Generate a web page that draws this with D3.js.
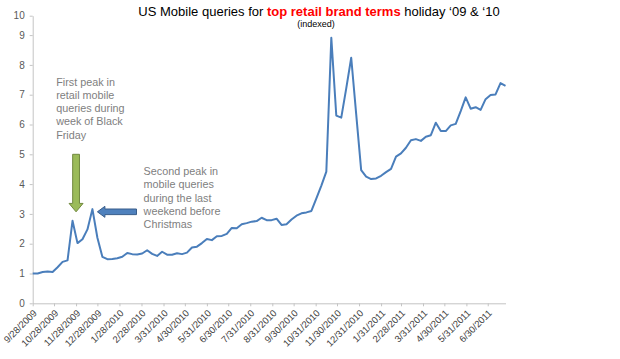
<!DOCTYPE html>
<html>
<head>
<meta charset="utf-8">
<script src="https://cdn.jsdelivr.net/npm/d3@7"></script>
<style>
  body { margin: 0; background: #fff; }
  svg { display: block; font-family: Arial, "Liberation Sans", sans-serif; }
</style>
</head>
<body>
<div id="chart"></div>
<script>
// Weekly index of mobile queries (week starting dates)
const weeks = [
  "2009-09-28","2009-10-05","2009-10-12","2009-10-19","2009-10-26","2009-11-02","2009-11-09",
  "2009-11-16","2009-11-23","2009-11-30","2009-12-07","2009-12-14","2009-12-21","2009-12-28",
  "2010-01-04","2010-01-11","2010-01-18","2010-01-25","2010-02-01","2010-02-08","2010-02-15",
  "2010-02-22","2010-03-01","2010-03-08","2010-03-15","2010-03-22","2010-03-29","2010-04-05",
  "2010-04-12","2010-04-19","2010-04-26","2010-05-03","2010-05-10","2010-05-17","2010-05-24",
  "2010-05-31","2010-06-07","2010-06-14","2010-06-21","2010-06-28","2010-07-05","2010-07-12",
  "2010-07-19","2010-07-26","2010-08-02","2010-08-09","2010-08-16","2010-08-23","2010-08-30",
  "2010-09-06","2010-09-13","2010-09-20","2010-09-27","2010-10-04","2010-10-11","2010-10-18",
  "2010-10-25","2010-11-01","2010-11-08","2010-11-15","2010-11-22","2010-11-29","2010-12-06",
  "2010-12-13","2010-12-20","2010-12-27","2011-01-03","2011-01-10","2011-01-17","2011-01-24",
  "2011-01-31","2011-02-07","2011-02-14","2011-02-21","2011-02-28","2011-03-07","2011-03-14",
  "2011-03-21","2011-03-28","2011-04-04","2011-04-11","2011-04-18","2011-04-25","2011-05-02",
  "2011-05-09","2011-05-16","2011-05-23","2011-05-30","2011-06-06","2011-06-13","2011-06-20",
  "2011-06-27","2011-07-04","2011-07-11","2011-07-18","2011-07-25"
];

const queries = [
  1.0, 1.0, 1.05, 1.07, 1.05, 1.21, 1.39, 1.44, 2.77, 2.02, 2.15, 2.48, 3.16, 2.2,
  1.56, 1.48, 1.49, 1.51, 1.56, 1.69, 1.65, 1.64, 1.67, 1.78, 1.66, 1.59, 1.73, 1.63,
  1.63, 1.68, 1.65, 1.7, 1.87, 1.9, 2.02, 2.16, 2.12, 2.25, 2.26, 2.33, 2.53, 2.52,
  2.65, 2.69, 2.74, 2.76, 2.87, 2.79, 2.79, 2.84, 2.63, 2.65, 2.81, 2.94, 3.02, 3.05,
  3.1, 3.52, 3.95, 4.42, 8.91, 6.3, 6.23, 7.21, 8.24, 6.35, 4.47, 4.25, 4.17, 4.19,
  4.28, 4.4, 4.51, 4.92, 5.03, 5.22, 5.47, 5.51, 5.45, 5.59, 5.64, 6.06, 5.78, 5.78,
  5.97, 6.02, 6.45, 6.91, 6.53, 6.58, 6.49, 6.85, 6.99, 7.01, 7.39, 7.3
];

// Axis tick labels
const xTickLabels = [
  "9/28/2009","10/28/2009","11/28/2009","12/28/2009","1/28/2010","2/28/2010","3/31/2010",
  "4/30/2010","5/31/2010","6/30/2010","7/31/2010","8/31/2010","9/30/2010","10/31/2010",
  "11/30/2010","12/31/2010","1/31/2011","2/28/2011","3/31/2011","4/30/2011","5/31/2011","6/30/2011"
];
const yTicks = [0, 1, 2, 3, 4, 5, 6, 7, 8, 9, 10];

// Callouts
const notes = [
  { lines: ["First peak in", "retail mobile", "queries during", "week of Black", "Friday"], date: "2009-10-31", value: 7.3 },
  { lines: ["Second peak in", "mobile queries", "during the last", "weekend before", "Christmas"], date: "2010-03-03", value: 4.3 }
];
const greenArrow = { date: "2009-11-28", from: 5.0, to: 3.07 };
const blueArrow = { value: 3.07, from: "2010-02-21", to: "2009-12-28" };

const W = 620, H = 359;
const parseISO = d3.timeParse("%Y-%m-%d");
const parseTick = d3.timeParse("%m/%d/%Y");

const data = weeks.map((w, i) => ({ date: parseISO(w), value: queries[i] }));

const svg = d3.select("#chart").append("svg")
    .attr("width", W)
    .attr("height", H);

// Scales
const x = d3.scaleTime()
    .domain(d3.extent(data, d => d.date))
    .range([32.7, 505.5]);

// the source picture squeezes the top band (9 -> 10), keep that
const y = d3.scaleLinear()
    .domain([0, 9, 10])
    .range([303.3, 35.1, 15.7]);

// Y axis
const yAxis = svg.append("g")
    .attr("transform", "translate(32.7,0)")
    .call(d3.axisLeft(y).tickValues(yTicks).tickSize(3).tickSizeOuter(0).tickPadding(5));
yAxis.selectAll("path, line").attr("stroke", "#c4c4c4");
yAxis.selectAll("text")
    .attr("fill", "#595959")
    .style("font-size", "10px")
    .style("font-family", "Arial, 'Liberation Sans', sans-serif");

// X axis
const xAxis = svg.append("g")
    .attr("transform", `translate(0,${y(0)})`)
    .call(d3.axisBottom(x)
        .tickValues(xTickLabels.map(parseTick))
        .tickFormat((d, i) => xTickLabels[i])
        .tickSize(3)
        .tickSizeOuter(0));
xAxis.selectAll("path, line").attr("stroke", "#c4c4c4");
xAxis.selectAll("text")
    .attr("fill", "#404040")
    .attr("y", 0)
    .attr("dy", "0.35em")
    .attr("text-anchor", "end")
    .attr("transform", "translate(2,8) rotate(-45)")
    .style("font-size", "9.5px")
    .style("font-family", "Arial, 'Liberation Sans', sans-serif");

// Line
const line = d3.line()
    .x(d => x(d.date))
    .y(d => y(d.value));

svg.append("path")
    .datum(data)
    .attr("fill", "none")
    .attr("stroke", "#4a7ebb")
    .attr("stroke-width", 2)
    .attr("stroke-linejoin", "round")
    .attr("d", line);

// Title
const title = svg.append("text")
    .attr("x", 319)
    .attr("y", 15.5)
    .attr("text-anchor", "middle")
    .style("font-size", "13px")
    .attr("fill", "#000");
title.append("tspan").text("US Mobile queries for ");
title.append("tspan").attr("fill", "#ff0000").attr("font-weight", "bold").text("top retail brand terms");
title.append("tspan").text(" holiday \u201809 & \u201810");

svg.append("text")
    .attr("x", 316)
    .attr("y", 27)
    .attr("text-anchor", "middle")
    .style("font-size", "9px")
    .attr("fill", "#000")
    .text("(indexed)");

// Callout text
notes.forEach(n => {
    const t = svg.append("text")
        .attr("x", x(parseISO(n.date)))
        .attr("y", y(n.value))
        .attr("fill", "#808080")
        .style("font-size", "10.8px");
    n.lines.forEach((l, i) => {
        t.append("tspan")
            .attr("x", x(parseISO(n.date)))
            .attr("dy", i === 0 ? 0 : 13.2)
            .text(l);
    });
});

// Green arrow pointing down at first peak
{
    const cx = x(parseISO(greenArrow.date));
    const y0 = y(greenArrow.from), y1 = y(greenArrow.to);
    const sw = 3.4, hw = 7, hl = 8.4;
    const p = d3.path();
    p.moveTo(cx - sw, y0);
    p.lineTo(cx + sw, y0);
    p.lineTo(cx + sw, y1 - hl);
    p.lineTo(cx + hw, y1 - hl);
    p.lineTo(cx, y1);
    p.lineTo(cx - hw, y1 - hl);
    p.lineTo(cx - sw, y1 - hl);
    p.closePath();
    svg.append("path")
        .attr("d", p.toString())
        .attr("fill", "#9bbb59")
        .attr("stroke", "#71893f")
        .attr("stroke-width", 1);
}

// Blue arrow pointing left at second peak
{
    const cy = y(blueArrow.value);
    const x0 = x(parseISO(blueArrow.from)), x1 = x(parseISO(blueArrow.to));
    const sw = 2.8, hw = 5.5, hl = 7.5;
    const p = d3.path();
    p.moveTo(x0, cy - sw);
    p.lineTo(x0, cy + sw);
    p.lineTo(x1 + hl, cy + sw);
    p.lineTo(x1 + hl, cy + hw);
    p.lineTo(x1, cy);
    p.lineTo(x1 + hl, cy - hw);
    p.lineTo(x1 + hl, cy - sw);
    p.closePath();
    svg.append("path")
        .attr("d", p.toString())
        .attr("fill", "#4f81bd")
        .attr("stroke", "#385d8a")
        .attr("stroke-width", 1);
}
</script>
</body>
</html>
